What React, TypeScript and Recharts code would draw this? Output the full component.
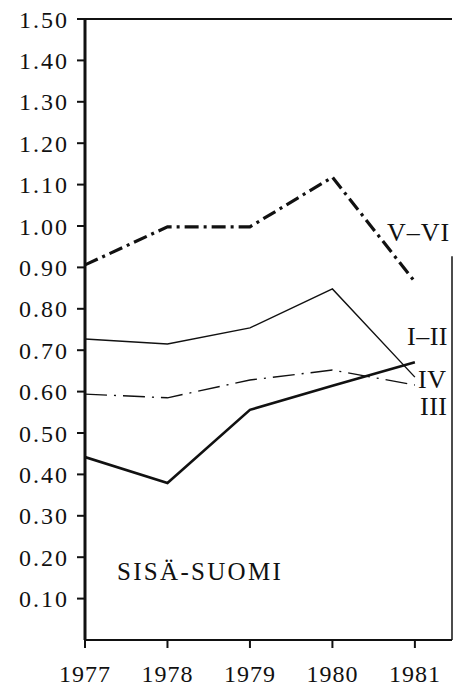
import { LineChart, Line, XAxis, YAxis, ReferenceLine, Customized } from 'recharts'

const years = [1977, 1978, 1979, 1980, 1981]
const groupI_II = [0.727, 0.715, 0.754, 0.848, 0.635] // thin solid
const groupIII = [0.594, 0.585, 0.628, 0.652, 0.616] // thin dash-dot
const groupIV = [0.442, 0.379, 0.556, 0.614, 0.671] // thick solid
const groupV_VI = [0.906, 0.998, 0.998, 1.118, 0.865] // thick dash-dot
const yTicks = [0.1, 0.2, 0.3, 0.4, 0.5, 0.6, 0.7, 0.8, 0.9, 1.0, 1.1, 1.2, 1.3, 1.4, 1.5]

const data = years.map((year, i) => ({
  year,
  a: groupI_II[i],
  b: groupIII[i],
  c: groupIV[i],
  d: groupV_VI[i],
}))

const css = `.chart text { font-family: 'Liberation Serif', 'Times New Roman', 'DejaVu Serif', serif !important; }`

const Labels = () => (
  <g fill="#111">
    <text x={387} y={241} fontSize={26} letterSpacing={1}>V–VI</text>
    <text x={407} y={345} fontSize={26} letterSpacing={0.5}>I–II</text>
    <text x={418} y={388} fontSize={26} letterSpacing={0.5}>IV</text>
    <text x={420} y={415} fontSize={26} letterSpacing={0.5}>III</text>
    <text x={117} y={580} fontSize={25} letterSpacing={2.3}>SISÄ-SUOMI</text>
  </g>
)

export default function App() {
  return (
    <div className="chart" style={{ position: 'absolute', left: 0, top: 0, background: '#fff' }}>
      <style>{css}</style>
      <LineChart width={454} height={689} data={data} margin={{ top: 19, right: 2, bottom: 0, left: 0 }}>
        <XAxis
          dataKey="year"
          type="number"
          domain={[1977, 1981.45]}
          ticks={years}
          allowDataOverflow
          height={49}
          tickSize={8}
          tickMargin={17}
          axisLine={{ stroke: '#111', strokeWidth: 2 }}
          tickLine={{ stroke: '#111', strokeWidth: 2 }}
          tick={{ fill: '#111', fontSize: 24, letterSpacing: 1 }}
        />
        <YAxis
          type="number"
          domain={[0, 1.5]}
          ticks={yTicks}
          width={85}
          tickSize={8}
          tickMargin={8}
          tickFormatter={(v: number) => v.toFixed(2)}
          axisLine={{ stroke: '#111', strokeWidth: 3 }}
          tickLine={{ stroke: '#111', strokeWidth: 2 }}
          tick={{ fill: '#111', fontSize: 24, letterSpacing: 2 }}
        />
        <ReferenceLine y={1.5} stroke="#111" strokeWidth={2} />
        <ReferenceLine
          segment={[{ x: 1981.45, y: 0 }, { x: 1981.45, y: 0.927 }]}
          stroke="#111"
          strokeWidth={1.5}
        />
        <Line dataKey="a" stroke="#111" strokeWidth={1.4} dot={false} isAnimationActive={false} />
        <Line dataKey="b" stroke="#111" strokeWidth={1.4} strokeDasharray="22 7 2 7" dot={false} isAnimationActive={false} />
        <Line dataKey="c" stroke="#111" strokeWidth={2.6} dot={false} isAnimationActive={false} />
        <Line dataKey="d" stroke="#111" strokeWidth={3.2} strokeDasharray="14 5 3 5" dot={false} isAnimationActive={false} />
        <Customized component={Labels} />
      </LineChart>
    </div>
  )
}
